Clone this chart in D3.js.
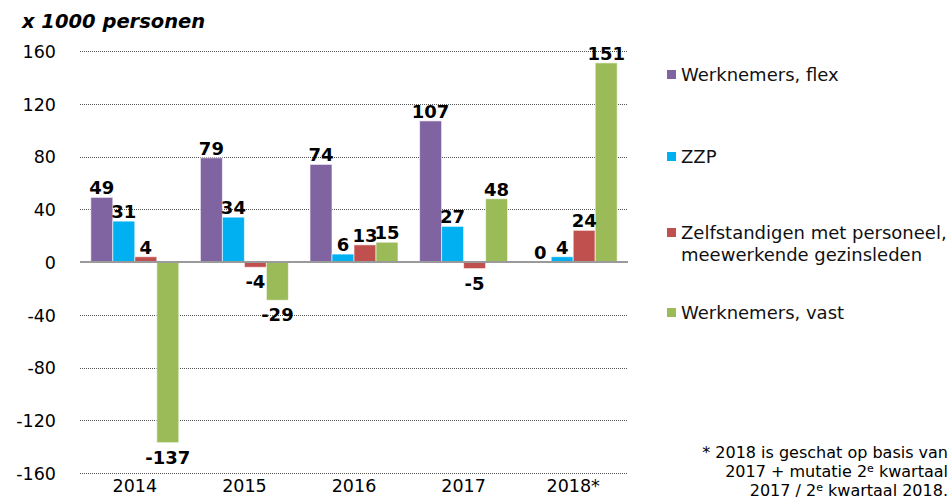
<!DOCTYPE html>
<html>
<head>
<meta charset="utf-8">
<script src="https://cdn.jsdelivr.net/npm/d3@7"></script>
<style>
  html, body { margin: 0; padding: 0; background: #fff; }
  svg { display: block; font-family: "DejaVu Sans", Verdana, sans-serif; }
</style>
</head>
<body>
<svg id="chart" width="951" height="504"></svg>
<script>
const years = ["2014", "2015", "2016", "2017", "2018*"];
const seriesNames = ["Werknemers, flex", "ZZP", "Zelfstandigen met personeel, meewerkende gezinsleden", "Werknemers, vast"];
const flex = [49, 79, 74, 107, 0];
const zzp = [31, 34, 6, 27, 4];
const zmp = [4, -4, 13, -5, 24];
const vast = [-137, -29, 15, 48, 151];
const colors = ["#8064A2", "#00B0F0", "#C0504D", "#9BBB59"];
const yTicks = [-160, -120, -80, -40, 0, 40, 80, 120, 160];
const legendLines = [["Werknemers, flex"], ["ZZP"], ["Zelfstandigen met personeel,", "meewerkende gezinsleden"], ["Werknemers, vast"]];

const series = [flex, zzp, zmp, vast];
const svg = d3.select("#chart");

const plotLeft = 80, plotRight = 628, plotTop = 51, plotBottom = 473;
const x0 = d3.scaleBand().domain(years).range([plotLeft, plotRight]).padding(0);
const x1 = d3.scaleBand().domain(d3.range(series.length)).range([10.8, x0.bandwidth() - 10.8]).padding(0);
const y = d3.scaleLinear().domain([-160, 160]).range([plotBottom, plotTop]);

// gridlines (dotted)
svg.append("g").selectAll("line").data(yTicks.filter(d => d !== 0)).join("line")
  .attr("x1", plotLeft).attr("x2", plotRight)
  .attr("y1", d => Math.round(y(d)) + 0.5).attr("y2", d => Math.round(y(d)) + 0.5)
  .attr("stroke", "#555").attr("stroke-width", 1).attr("stroke-dasharray", "1,1");

// y axis labels
const yAxis = d3.axisLeft(y).tickValues(yTicks).tickSize(0).tickPadding(0).tickFormat(d => String(d));
const gy = svg.append("g").attr("transform", "translate(56,0)").call(yAxis);
gy.select(".domain").remove();
gy.selectAll("text").attr("font-size", 17.5).attr("fill", "#000").attr("font-family", "DejaVu Sans, sans-serif").attr("dy", "0.36em");

// bars
const groups = svg.append("g").selectAll("g").data(years).join("g")
  .attr("transform", d => `translate(${x0(d)},0)`);

groups.selectAll("rect").data((yr, i) => series.map((s, k) => ({k, v: s[i]}))).join("rect")
  .attr("x", d => x1(d.k))
  .attr("width", x1.bandwidth())
  .attr("y", d => y(Math.max(0, d.v)))
  .attr("height", d => Math.abs(y(d.v) - y(0)))
  .attr("fill", d => colors[d.k])
  .attr("stroke", "rgba(255,255,255,0.6)").attr("stroke-width", 1);

// zero line
svg.append("line").attr("x1", plotLeft).attr("x2", plotRight)
  .attr("y1", y(0)).attr("y2", y(0))
  .attr("stroke", "#9a9a9a").attr("stroke-width", 2);

// value labels
groups.selectAll("text.val").data((yr, i) => series.map((s, k) => ({k, v: s[i]}))).join("text")
  .attr("class", "val")
  .attr("x", d => x1(d.k) + x1.bandwidth() / 2)
  .attr("y", d => d.v >= 0 ? y(d.v) - 3 : y(d.v) + 21)
  .attr("text-anchor", "middle")
  .attr("font-size", 18).attr("font-weight", "bold").attr("fill", "#000")
  .text(d => d.v);

// x axis labels
const xAxis = d3.axisBottom(x0).tickSize(0).tickPadding(0);
const gx = svg.append("g").attr("transform", "translate(0,480)").call(xAxis);
gx.select(".domain").remove();
gx.selectAll("text").attr("font-size", 17.5).attr("fill", "#000").attr("font-family", "DejaVu Sans, sans-serif").attr("dy", "0.71em");

// unit label
svg.append("text").attr("x", 22).attr("y", 28)
  .attr("font-size", 19.5).attr("font-weight", "bold").attr("font-style", "italic")
  .text("x 1000 personen");

// legend
const legendY = [75, 157, 233, 313];
const lg = svg.append("g").selectAll("g").data(legendLines).join("g")
  .attr("transform", (d, i) => `translate(667,${legendY[i]})`);
lg.append("rect").attr("x", 0).attr("y", -5).attr("width", 9).attr("height", 9)
  .attr("fill", (d, i) => colors[i]);
lg.each(function(lines) {
  const t = d3.select(this).append("text").attr("x", 14).attr("y", 6).attr("font-size", 18).attr("fill", "#111");
  lines.forEach((ln, j) => t.append("tspan").attr("x", 14).attr("dy", j === 0 ? 0 : 22).text(ln));
});

// footnote (three separate lines)
const fnLines = [458, 477, 496];
svg.append("text").attr("text-anchor", "end").attr("font-size", 16).attr("x", 948).attr("y", fnLines[0])
  .text("* 2018 is geschat op basis van");
const t2 = svg.append("text").attr("text-anchor", "end").attr("font-size", 16).attr("x", 948).attr("y", fnLines[1]);
t2.append("tspan").text("2017 + mutatie 2");
t2.append("tspan").attr("font-size", 11).attr("dy", -5).text("e");
t2.append("tspan").attr("dy", 5).text(" kwartaal");
const t3 = svg.append("text").attr("text-anchor", "end").attr("font-size", 16).attr("x", 948).attr("y", fnLines[2]);
t3.append("tspan").text("2017 / 2");
t3.append("tspan").attr("font-size", 11).attr("dy", -5).text("e");
t3.append("tspan").attr("dy", 5).text(" kwartaal 2018.");
</script>
</body>
</html>
